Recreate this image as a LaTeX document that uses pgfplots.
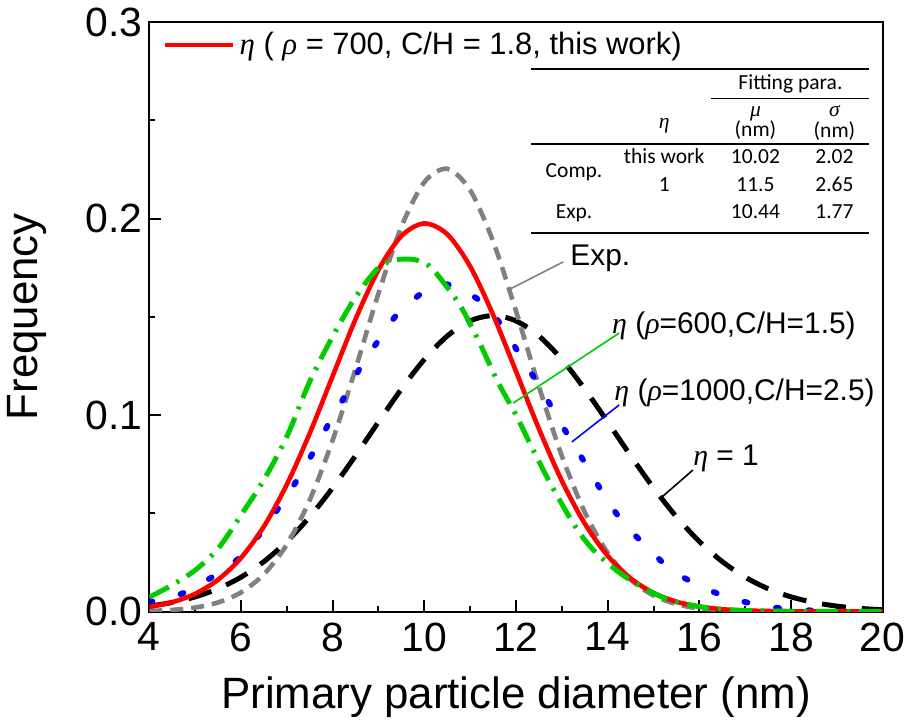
\documentclass[border=0pt]{standalone}
\usepackage{fontspec}
\setmainfont{Liberation Sans}
\newfontfamily\gkserif{Liberation Serif}
\newfontfamily\tabfont{Carlito}
\usepackage{pgfplots}
\pgfplotsset{compat=1.18}
\usepackage{array,booktabs}
\newcommand{\geta}{{\gkserif\itshape η}}
\newcommand{\grho}{{\gkserif\itshape ρ}}
\newcommand{\stackcell}[1]{$\vcenter{\baselineskip=10.2bp\lineskiplimit=-\maxdimen\halign{\hfil##\hfil\cr{\gkserif\itshape #1}\cr(nm)\cr}}$}
\definecolor{cgreen}{RGB}{0,204,0}
\definecolor{cgray}{RGB}{128,128,128}
\definecolor{cblue}{RGB}{0,0,255}
\definecolor{cred}{RGB}{255,0,0}

\begin{document}
\begin{tikzpicture}
\begin{axis}[
  scale only axis, width=366.7bp, height=294.75bp,
  xmin=4, xmax=20, ymin=0, ymax=0.3,
  xtick={4,6,...,20}, minor xtick={5,7,...,19},
  ytick={0,0.1,0.2,0.3}, minor ytick={0.05,0.15,0.25},
  tick pos=left, tick align=inside,
  major tick length=6bp, minor tick length=3bp,
  axis line style={line width=1bp},
  every tick/.append style={line width=1bp, black},
  /pgf/number format/assume math mode=true,
  y tick label style={/pgf/number format/fixed, /pgf/number format/fixed zerofill, /pgf/number format/precision=1},
  tick label style={font=\fontsize{20.5}{24}\selectfont},
  x tick label style={yshift=-2bp},
  label style={font=\fontsize{22}{26}\selectfont},
  xlabel={Primary particle diameter (nm)},
  ylabel={Frequency},
  xlabel style={at={(axis description cs:0.5,-0.145)},anchor=center},
  ylabel style={at={(axis description cs:-0.167,0.5)},anchor=center},
  clip mode=individual,
  legend style={at={(axis cs:4.3,0.2883)}, anchor=west, draw=none, fill=none,
    font=\fontsize{15.5}{18}\selectfont, inner sep=0pt, outer sep=0pt},
  legend image code/.code={\draw[#1] (0bp,0bp) -- (34bp,0bp);},
  every axis plot/.append style={line width=2.3bp},
]
\coordinate (bl) at (rel axis cs:0,0);
\coordinate (tr) at (rel axis cs:1,1);

% eta = 1 (black, long dashes)
\addplot[black, smooth, line width=2.5bp, dash pattern=on 12bp off 8bp, forget plot] coordinates {
(4,0.00274)(4.5,0.0046)(5,0.00744)(5.5,0.0116)(6,0.01747)(6.5,0.02539)(7,0.03561)(7.5,0.04819)(8,0.06293)(8.5,0.07933)(9,0.09647)(9.5,0.1132)(10,0.1283)(10.5,0.1402)(11,0.1479)(11.5,0.1506)(12,0.1479)(12.5,0.1402)(13,0.1283)(13.5,0.1132)(14,0.09647)(14.5,0.07933)(15,0.06293)(15.5,0.04819)(16,0.03561)(16.5,0.02539)(17,0.01747)(17.5,0.0116)(18,0.00744)(18.5,0.0046)(19,0.00274)(19.5,0.00158)(20,0.00088)};

% Exp. (gray, short dashes)
\addplot[cgray, smooth, dash pattern=on 6.5bp off 4bp, forget plot] coordinates {
(4,0.0003)(4.5,0.00081)(5,0.002)(5.5,0.00459)(6,0.0097)(6.5,0.01893)(7,0.03409)(7.5,0.05673)(8,0.08716)(8.5,0.1236)(9,0.1619)(9.5,0.1958)(10,0.2185)(10.5,0.2253)(11,0.2144)(11.5,0.1884)(12,0.1529)(12.5,0.1145)(13,0.0792)(13.5,0.05058)(14,0.02982)(14.5,0.01624)(15,0.00816)(15.5,0.00379)(16,0.00162)(17,0.00023)(18,0.00002)(20,0)};

% rho=1000, C/H=2.5 (blue, dotted)
\addplot[cblue, smooth, line width=2.9bp, line cap=round, dash pattern=on 1.6bp off 14.5bp, forget plot] coordinates {
(4,0.0048)(4.7,0.009)(5.3,0.0165)(5.9,0.026)(6.4,0.039)(6.8,0.052)(7.2,0.066)(7.6,0.082)(7.9,0.095)(8.3,0.111)(8.6,0.124)(9,0.138)(9.4,0.151)(10,0.163)(10.4,0.1665)(10.7,0.165)(11.25,0.1575)(11.7,0.145)(12.1,0.13)(12.5,0.115)(12.85,0.101)(13.2,0.087)(13.6,0.072)(13.95,0.058)(14.35,0.045)(14.85,0.033)(15.4,0.021)(16.1,0.012)(16.8,0.006)(17.5,0.0025)(18.1,0.0009)(19,0.0002)(20,0)};

% this work (red, solid)
\addplot[cred, smooth] coordinates {
(4,0.00233)(4.5,0.00472)(5,0.00901)(5.5,0.01616)(6,0.02726)(6.5,0.04327)(7,0.0646)(7.5,0.09069)(8,0.1198)(8.5,0.1488)(9,0.1739)(9.5,0.1911)(10,0.1975)(10.5,0.192)(11,0.1756)(11.5,0.151)(12,0.1222)(12.5,0.09297)(13,0.06652)(13.5,0.04477)(14,0.02835)(14.5,0.01689)(15,0.00945)(15.5,0.00498)(16,0.00247)(16.5,0.00115)(17,0.0005)(18,0.00008)(19,0.00001)(20,0)};
\addlegendentry{\geta{} ( \grho{} = 700, C/H = 1.8, this work)}

% rho=600, C/H=1.5 (green, dash-dot)
\addplot[cgreen, smooth, line width=2.5bp, dash pattern=on 11bp off 4.5bp on 1.5bp off 4.5bp, forget plot] coordinates {
(4,0.0073)(4.5,0.0135)(5,0.021)(5.5,0.032)(6,0.049)(6.5,0.067)(7,0.089)(7.5,0.117)(8,0.14)(8.5,0.16)(9,0.175)(9.4,0.179)(9.8,0.179)(10.1,0.176)(10.4,0.168)(10.8,0.155)(11.2,0.137)(11.6,0.117)(12,0.1)(12.4,0.081)(12.8,0.063)(13.3,0.043)(13.7,0.031)(14.3,0.019)(14.9,0.0105)(15.4,0.0055)(16,0.0025)(16.5,0.0012)(17,0.0005)(18,0.0001)(20,0)};

% annotations
\node[anchor=west, inner sep=0pt, font=\fontsize{15}{18}\selectfont] at (axis cs:13.18,0.1799) {Exp.};
\draw[cgray, line width=0.8bp] (axis cs:11.83,0.1636) -- (axis cs:13.03,0.1779);
\node[anchor=west, inner sep=0pt, font=\fontsize{15}{18}\selectfont] at (axis cs:14.09,0.1453) {\geta{} (\grho{}=600,C/H=1.5)};
\draw[cgreen, line width=0.8bp] (axis cs:14.25,0.1417) -- (axis cs:11.94,0.1061);
\node[anchor=west, inner sep=0pt, font=\fontsize{15}{18}\selectfont] at (axis cs:14.14,0.1112) {\geta{} (\grho{}=1000,C/H=2.5)};
\draw[cblue, line width=0.8bp] (axis cs:14.25,0.1051) -- (axis cs:13.22,0.0863);
\node[anchor=west, inner sep=0pt, font=\fontsize{15}{18}\selectfont] at (axis cs:15.86,0.0781) {\geta{} = 1};
\draw[black, line width=0.8bp] (axis cs:15.86,0.072) -- (axis cs:15.16,0.0578);

% table
\node[anchor=north east, inner sep=0pt, font=\tabfont\fontsize{10.8}{13.75}\selectfont] at (axis cs:19.72,0.2766) {%
\setlength{\tabcolsep}{0pt}%
\setlength{\aboverulesep}{0pt}\setlength{\belowrulesep}{0pt}%
\setlength{\heavyrulewidth}{1bp}\setlength{\lightrulewidth}{0.8bp}\setlength{\cmidrulewidth}{0.8bp}%
\begin{tabular}{>{\centering\arraybackslash}p{42.9bp}>{\centering\arraybackslash}p{47.25bp}>{\centering\arraybackslash}p{44bp}>{\centering\arraybackslash}p{35bp}}
\toprule
 & & \multicolumn{2}{c}{Fitting para.}\\
\cmidrule{3-4}
\rule[-7.45bp]{0pt}{21.9bp} & \geta & \stackcell{μ} & \stackcell{σ}\\
\midrule
\raisebox{-6.65bp}[0pt][0pt]{Comp.} & this work & 10.02 & 2.02\\
 & 1 & 11.5 & 2.65\\
Exp. & & 10.44 & 1.77\rule[-6.6bp]{0pt}{0pt}\\
\bottomrule
\end{tabular}};
\end{axis}
\pgfresetboundingbox
\path[use as bounding box] ([shift={(-74.65bp,-57.75bp)}]bl) rectangle ([shift={(13.15bp,11bp)}]tr);
\end{tikzpicture}
\end{document}
